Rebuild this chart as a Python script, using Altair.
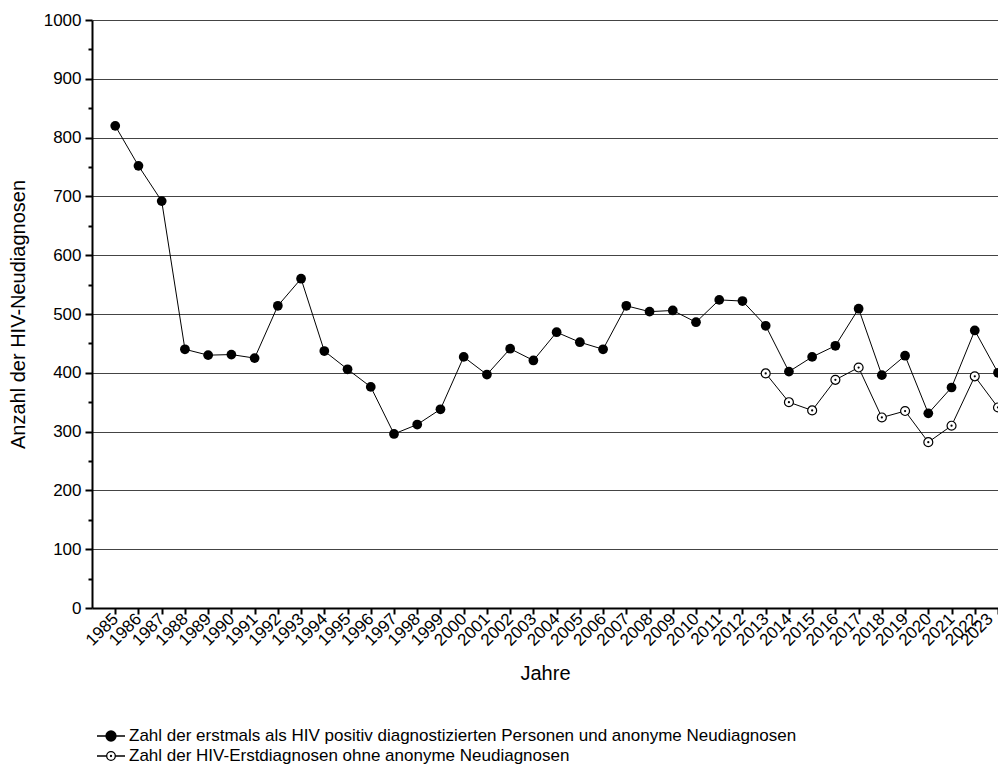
import altair as alt
import pandas as pd

years = list(range(1985, 2024))
total = [820, 752, 692, 440, 430, 431, 425, 514, 560, 437, 406, 376, 296, 312,
         338, 427, 397, 441, 421, 469, 452, 440, 514, 504, 506, 486, 524, 522,
         480, 402, 427, 446, 509, 396, 429, 331, 375, 472, 400]
years_ohne = list(range(2013, 2024))
ohne = [399, 350, 336, 388, 409, 324, 335, 282, 310, 394, 341]

y_ticks = list(range(0, 1001, 50))
x_ticks = years

label_a = "Zahl der erstmals als HIV positiv diagnostizierten Personen und anonyme Neudiagnosen"
label_b = "Zahl der HIV-Erstdiagnosen ohne anonyme Neudiagnosen"
series = [label_a, label_b]

df = pd.concat([
    pd.DataFrame({"Jahr": years, "Wert": total, "Serie": label_a}),
    pd.DataFrame({"Jahr": years_ohne, "Wert": ohne, "Serie": label_b}),
], ignore_index=True)

FONT = "Liberation Sans"

x = alt.X(
    "Jahr:Q",
    scale=alt.Scale(domain=[1984, 2023], nice=False, zero=False),
    axis=alt.Axis(
        values=x_ticks, format="d", title="Jahre",
        labelAngle=-45, labelAlign="right", labelBaseline="middle",
        labelOverlap=False, labelFlush=False, labelPadding=2,
        labelOffset={"condition": {"test": "datum.value === 2023", "value": -8}, "value": 0},
        labelFontSize=17, titleFontSize=20, titlePadding=15,
        tickSize=6, tickWidth=2, tickColor="black",
        domainColor="black", domainWidth=2, grid=False,
    ),
)
y = alt.Y(
    "Wert:Q",
    scale=alt.Scale(domain=[0, 1000], nice=False, zero=True),
    axis=alt.Axis(
        values=y_ticks, format="d", title="Anzahl der HIV-Neudiagnosen",
        labelExpr="datum.value % 100 === 0 ? datum.label : ''",
        labelOverlap=False, labelFlush=False, labelPadding=4,
        labelFontSize=17, titleFontSize=20, titlePadding=15,
        tickSize={"condition": {"test": "datum.value % 100 === 0", "value": 7}, "value": 4},
        tickWidth=2, tickColor="black",
        domainColor="black", domainWidth=2,
        grid=True, gridColor="#444444", gridWidth=1,
        gridOpacity={"condition": {"test": "datum.value % 100 === 0 && datum.value > 0", "value": 1}, "value": 0},
    ),
)

base = alt.Chart(df)

lines = base.mark_line(color="black", strokeWidth=1).encode(x=x, y=y, detail="Serie:N")

pts_a = base.transform_filter(alt.datum.Serie == label_a).mark_point(
    filled=True, color="black", size=95, opacity=1
).encode(x=x, y=y)

pts_b = base.transform_filter(alt.datum.Serie == label_b).mark_point(
    filled=True, fill="white", stroke="black", strokeWidth=1.2, size=80, opacity=1
).encode(x=x, y=y)

dots_b = base.transform_filter(alt.datum.Serie == label_b).mark_point(
    filled=True, color="black", size=5, opacity=1
).encode(x=x, y=y)


def ring(r):
    return (f"M{-r},0A{r},{r},0,1,1,{r},0A{r},{r},0,1,1,{-r},0Z")


# legend glyphs (stroke-only): line with solid dot / line with open dotted circle
path_a = "M-1.4,0L1.4,0" + "".join(ring(r) for r in (0.5, 0.4, 0.3, 0.2, 0.1, 0.03))
path_b = "M-1.4,0L-0.43,0M0.43,0L1.4,0" + ring(0.43) + ring(0.05)

leg = alt.Legend(
    title=None, orient="none", legendX=8, legendY=705,
    symbolSize=400, symbolStrokeColor="black", symbolStrokeWidth=1.3,
    symbolFillColor="transparent",
    symbolOpacity=1, labelFontSize=17, labelFont=FONT, labelLimit=1000,
    labelOffset=7, rowPadding=1, labelColor="black",
)

legend_layer = base.transform_filter("false").mark_point(
    filled=False, color="black", strokeWidth=1.3, opacity=1
).encode(
    x=x, y=y,
    shape=alt.Shape("Serie:N", scale=alt.Scale(domain=series, range=[path_a, path_b]), legend=leg),
)

chart = alt.layer(lines, pts_a, pts_b, dots_b, legend_layer).properties(
    width=906, height=588,
    autosize=alt.AutoSizeParams(type="none"),
    padding={"left": 84, "top": 12, "right": 0, "bottom": 156},
).configure_view(stroke=None).configure_axis(
    labelFont=FONT, titleFont=FONT, labelColor="black", titleColor="black",
    titleFontWeight="normal", labelFontWeight="normal",
)

chart.save("out.html", embed_options={"renderer": "svg", "actions": False})
